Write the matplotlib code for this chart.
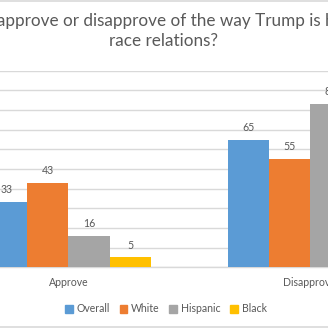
import numpy as np
import matplotlib
matplotlib.use("Agg")
import matplotlib.pyplot as plt
from matplotlib.patches import Patch
from matplotlib.lines import Line2D

# data
categories = ["Approve", "Disapprove"]
groups = ["Overall", "White", "Hispanic", "Black"]
overall = [33, 65]
white = [43, 55]
hispanic = [16, 83]
black = [5, 90]

COLORS = ["#5B9BD5", "#ED7D31", "#A5A5A5", "#FFC000"]
TEXT = "#595959"
GRID = "#D9D9D9"

plt.rcParams["font.family"] = ["Lato", "DejaVu Sans"]

fig = plt.figure(figsize=(3.28, 3.28), dpi=100)

# plot area is wider than the canvas (the reference is a crop)
W = 328.0
ax = fig.add_axes([-52.2 / W, (W - 267.3) / W, 482.7 / W, (267.3 - 70.7) / W])

series = [overall, white, hispanic, black]
x = np.arange(len(categories))
bw = 0.17
for i, (vals, col) in enumerate(zip(series, COLORS)):
    pos = x + (i - 1.5) * bw
    bars = ax.bar(pos, vals, width=bw, color=col, zorder=3, label=groups[i])
    for b, v in zip(bars, vals):
        ax.annotate(str(v), (b.get_x() + b.get_width() / 2, v),
                    xytext=(0, 5), textcoords="offset points",
                    ha="center", va="bottom", fontsize=7.6, color=TEXT,
                    annotation_clip=False)

ax.set_xlim(-0.5, 1.5)
ax.set_ylim(0, 100)
ax.set_yticks(np.arange(0, 101, 10))
ax.yaxis.grid(True, color=GRID, linewidth=1.0, zorder=0)
ax.tick_params(axis="y", length=0, labelleft=False)
ax.set_xticks(x)
ax.set_xticklabels(categories, fontsize=7.6, color=TEXT)
ax.tick_params(axis="x", length=0, pad=7)
for s in ["top", "right", "left"]:
    ax.spines[s].set_visible(False)
ax.spines["bottom"].set_color(GRID)
ax.spines["bottom"].set_linewidth(1.0)

fig.text(0.4985, 1 - 31 / W,
         "Do you approve or disapprove of the way Trump is handling\nrace relations?",
         ha="center", va="center", fontsize=12.3, color=TEXT, linespacing=1.38)

handles = [Patch(color=c, label=g) for g, c in zip(groups, COLORS)]
fig.legend(handles=handles, loc="center", bbox_to_anchor=(166 / W, 1 - 309 / W),
           ncol=4, frameon=False, fontsize=7.6, labelcolor=TEXT,
           handlelength=0.7, handleheight=0.7, handletextpad=0.4, columnspacing=0.9)

# chart area border (top and bottom edges visible in the crop)
fig.add_artist(Line2D([0, 1], [1 - 0.5 / W, 1 - 0.5 / W], transform=fig.transFigure,
                      color=GRID, linewidth=1.2))
fig.add_artist(Line2D([0, 1], [1.5 / W, 1.5 / W], transform=fig.transFigure,
                      color=GRID, linewidth=1.2))

fig.savefig("out.png", dpi=100, facecolor="white")
